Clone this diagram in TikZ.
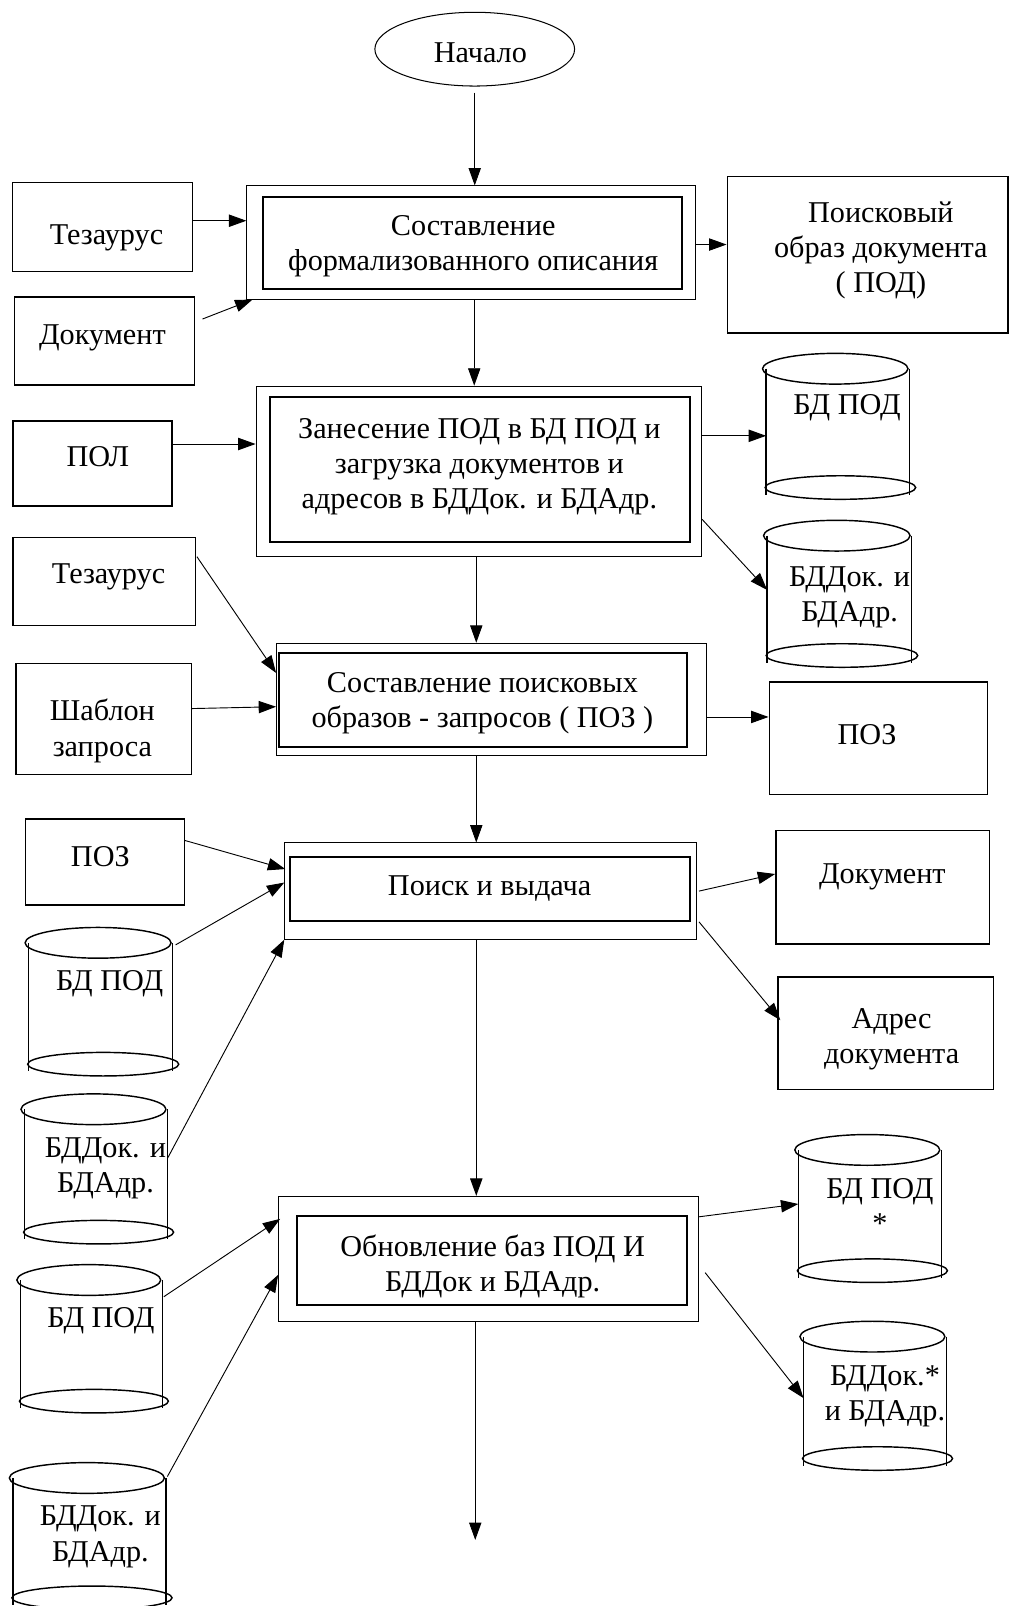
\documentclass[tikz,border=0pt]{standalone}
\usepackage{fontspec}
\setmainfont{Liberation Serif}
\usetikzlibrary{arrows.meta,shapes.geometric}

% database "can": name, left side x, right side x, top rim y, bottom rim y
\newcommand\dbcan[5]{%
  \pgfmathsetmacro\canmid{(#2+#3)/2}%
  \pgfmathsetmacro\canhw{(#3-#2)/2}%
  \pgfmathsetmacro\canmy{(#4+#5)/2}%
  \pgfmathsetmacro\canw{#3-#2}%
  \pgfmathsetmacro\canh{#5-#4}%
  \node[canbody, minimum width=\canw pt, minimum height=\canh pt] (#1) at (\canmid,\canmy) {};
  \draw[canline] (#1.north west) -- ([yshift=-7pt]#1.south west);
  \draw[canline] (#1.north east) -- ([yshift=-7pt]#1.south east);
  \draw[canline] ([xshift=-2.5pt]#1.north) ellipse [x radius=\canhw+1, y radius=15];
  \draw[canline] ([xshift=2.5pt]#1.south) ellipse [x radius=\canhw+3.5, y radius=11.5];
}

\begin{document}
\begin{tikzpicture}[x=1pt,y=-1pt,
  lbl/.style={align=center, inner sep=0pt, yshift=-2.5pt, font=\fontsize{29.5}{34.5}\selectfont},
  plainbox/.style={draw, line width=1.3pt, inner sep=0pt},
  outerframe/.style={draw, line width=0.9pt, inner sep=0pt},
  innerframe/.style={draw, line width=2pt, inner sep=0pt},
  canbody/.style={inner sep=0pt, outer sep=0pt},
  canline/.style={line width=1.4pt},
  arr/.style={-{Triangle[length=17pt,width=12pt]}, line width=0.9pt}]

\useasboundingbox (0,0) rectangle (986,1568);

% start terminal
\node[draw, ellipse, line width=1pt, minimum width=195pt, minimum height=72pt] (start) at (463.5,48) {};
\node[lbl] (startT) at (469,49) {Начало};

% process blocks (outer frame + inner frame + caption)
\node[outerframe, minimum width=438pt, minimum height=110.5pt] (b1o) at (460,236.75) {};
\node[innerframe, minimum width=409pt, minimum height=90pt] (b1i) at (461.5,237) {};
\node[lbl] (b1) at (462,238) {Составление\\формализованного описания};

\node[outerframe, minimum width=435pt, minimum height=166pt] (b2o) at (467.5,460) {};
\node[innerframe, minimum width=410pt, minimum height=141pt] (b2i) at (469,458.5) {};
\node[lbl] (b2) at (468,453) {Занесение ПОД в БД ПОД и\\загрузка документов и\\адресов в БДДок. и БДАдр.};

\node[outerframe, minimum width=420pt, minimum height=110pt] (b3o) at (480,683) {};
\node[innerframe, minimum width=399pt, minimum height=91pt] (b3i) at (471.5,683.4) {};
\node[lbl] (b3) at (471,684) {Составление поисковых\\образов - запросов ( ПОЗ )};

\node[outerframe, minimum width=402pt, minimum height=94pt] (b4o) at (479,870) {};
\node[innerframe, minimum width=391pt, minimum height=62pt] (b4i) at (478.5,868) {};
\node[lbl] (b4) at (478,865) {Поиск и выдача};

\node[outerframe, minimum width=410pt, minimum height=122pt] (b5o) at (477,1229) {};
\node[innerframe, minimum width=381pt, minimum height=87pt] (b5i) at (480.5,1230.5) {};
\node[lbl] (b5) at (481,1234) {Обновление баз ПОД И\\БДДок и БДАдр.};

% data boxes
\node[plainbox, minimum width=176pt, minimum height=87pt] (tez1) at (100,221.5) {};
\node[lbl] (tez1T) at (104,230) {Тезаурус};
\node[plainbox, minimum width=176pt, minimum height=86pt] (doc1) at (102,333) {};
\node[lbl] (doc1T) at (100,327) {Документ};
\node[plainbox, minimum width=274pt, minimum height=152.5pt] (pod) at (847,248.75) {};
\node[lbl] (podT) at (860,242) {Поисковый\\образ документа\\( ПОД)};
\node[plainbox, minimum width=155.4pt, minimum height=83pt] (pol) at (90.3,452.5) {};
\node[lbl] (polT) at (95.5,443) {ПОЛ};
\node[plainbox, minimum width=178pt, minimum height=86pt] (tez2) at (101.6,568) {};
\node[lbl] (tez2T) at (106,561) {Тезаурус};
\node[plainbox, minimum width=171pt, minimum height=108.4pt] (tpl) at (101.2,701.8) {};
\node[lbl] (tplT) at (100,711) {Шаблон\\запроса};
\node[plainbox, minimum width=213pt, minimum height=110pt] (pozR) at (857.5,721) {};
\node[lbl] (pozRT) at (846.5,715) {ПОЗ};
\node[plainbox, minimum width=155pt, minimum height=84pt] (pozL) at (102.5,841.6) {};
\node[lbl] (pozLT) at (98,834) {ПОЗ};
\node[plainbox, minimum width=208.5pt, minimum height=110.6pt] (doc2) at (861.75,866.3) {};
\node[lbl] (doc2T) at (861.5,854) {Документ};
\node[plainbox, minimum width=210.5pt, minimum height=110pt] (adr) at (864.75,1009) {};
\node[lbl] (adrT) at (870.5,1012) {Адрес\\документа};

% databases
\dbcan{cR1}{748}{888}{360}{476}
\node[lbl] (cR1T) at (827,396) {БД ПОД};
\dbcan{cR2}{749}{890}{523}{640}
\node[lbl] (cR2T) at (829.5,581) {БДДок. и\\БДАдр.};
\dbcan{cL1}{28}{168.5}{920.5}{1039}
\node[lbl] (cL1T) at (107,958) {БД ПОД};
\dbcan{cL2}{24}{163.5}{1083}{1203}
\node[lbl] (cL2T) at (103,1138) {БДДок. и\\БДАдр.};
\dbcan{cR3}{779.5}{919}{1122.7}{1240.6}
\node[lbl] (cR3T) at (859,1175) {БД ПОД\\*};
\dbcan{cR4}{784.5}{924}{1305}{1424}
\node[lbl] (cR4T) at (864,1361) {БДДок.*\\и БДАдр.};
\dbcan{cL3}{20}{158.4}{1249.7}{1368}
\node[lbl] (cL3T) at (98.5,1287) {БД ПОД};
\dbcan{cL4}{12.6}{162}{1443}{1560}
\node[lbl] (cL4T) at (98,1498) {БДДок. и\\БДАдр.};

% connector end points
\coordinate (s0) at ([yshift=-6pt]start.south);
\coordinate (s1) at ([yshift=6pt]tez1.east);
\coordinate (s3) at ([yshift=-2pt]b1o.east);
\coordinate (s4) at ([xshift=3pt]b1o.south);
\coordinate (s5) at ([yshift=19pt]pol.east);
\coordinate (s8) at ([xshift=-2.5pt]b2o.south);
\coordinate (s11) at ([yshift=-17pt]b3o.east);
\coordinate (s12) at ([xshift=-15pt]b3o.south);
\coordinate (s18) at ([xshift=-14pt]b4o.south);
\coordinate (s23) at ([xshift=-13pt]b5o.south);
\coordinate (fin) at (464,1503.5);

% connectors
\draw[arr] (s0) -- (s0 |- b1o.north);
\draw[arr] (s1) -- (s1 -| b1o.west);
\draw[arr] ([xshift=7pt,yshift=21.5pt]doc1.east) -- ([xshift=6pt]b1o.south west);
\draw[arr] (s3) -- (s3 -| pod.west);
\draw[arr] (s4) -- (s4 |- b2o.north);
\draw[arr] (s5) -- (s5 -| b2o.west);
\draw[arr] ([yshift=34.5pt]b2o.east) -- ([yshift=-7.5pt]cR1.west);
\draw[arr] ([yshift=-47pt]b2o.east) -- ([yshift=5.5pt]cR2.west);
\draw[arr] (s8) -- (s8 |- b3o.north);
\draw[arr] ([xshift=1pt,yshift=24.5pt]tez2.east) -- ([yshift=26pt]b3o.west);
\draw[arr] ([yshift=10pt]tpl.east) -- ([yshift=-7pt]b3o.west);
\draw[arr] (s11) -- (s11 -| pozR.west);
\draw[arr] (s12) -- (s12 |- b4o.north);
\draw[arr] ([yshift=21pt]pozL.east) -- ([xshift=1pt,yshift=21.5pt]b4o.west);
\draw[arr] ([xshift=3pt,yshift=-2pt]cL1.north east) -- ([yshift=8.3pt]b4o.west);
\draw[arr] ([yshift=-48pt]cL2.north east) -- (b4o.south west);
\draw[arr] ([xshift=2pt]b4o.east) -- ([yshift=13pt]doc2.west);
\draw[arr] ([xshift=2pt,yshift=-30pt]b4o.east) -- ([xshift=3pt,yshift=13pt]adr.west);
\draw[arr] (s18) -- (s18 |- b5o.north);
\draw[arr] ([yshift=41pt]b5o.east) -- ([yshift=-52.8pt]cR3.north west);
\draw[arr] ([xshift=6pt,yshift=-13.5pt]b5o.east) -- ([yshift=-60pt]cR4.north west);
\draw[arr] ([xshift=1.6pt,yshift=-16.3pt]cL3.north east) -- ([xshift=2pt,yshift=39pt]b5o.west);
\draw[arr] ([xshift=1.4pt,yshift=1.4pt]cL4.north east) -- ([yshift=-15.7pt]b5o.west);
\draw[arr] (s23) -- (fin);

\end{tikzpicture}
\end{document}
